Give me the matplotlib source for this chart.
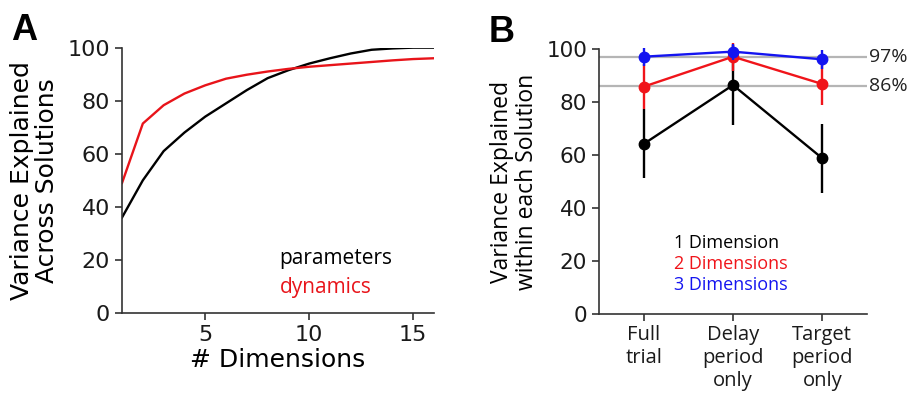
import matplotlib
matplotlib.use("Agg")
import matplotlib.pyplot as plt
import numpy as np

plt.rcParams['font.family'] = ['DejaVu Sans']
ann_font = ['Open Sans', 'DejaVu Sans']

# Panel A data
dims = [1, 2, 3, 4, 5, 6, 7, 8, 9, 10, 11, 12, 13, 14, 15, 16]
parameters = [36, 50, 61, 68, 74, 79, 84, 88.5, 91.5, 94, 96, 97.8, 99.2, 99.7, 100, 100]
dynamics = [49, 71.4, 78.3, 82.7, 85.8, 88.3, 89.8, 91, 92, 92.8, 93.4, 94, 94.6, 95.2, 95.7, 96]

# Panel B data
conditions = ["Full\ntrial", "Delay\nperiod\nonly", "Target\nperiod\nonly"]
dim1_mean = [64.2, 86.4, 58.8]
dim1_err = [13, 15, 13]
dim2_mean = [85.8, 97.1, 86.8]
dim2_err = [8.5, 5.3, 8]
dim3_mean = [97.1, 99.0, 96.1]
dim3_err = [3.4, 3.0, 3.5]
ref_levels = [97, 86]
ref_labels = ["97%", "86%"]

fig = plt.figure(figsize=(9.08, 3.97), dpi=100)

spine_color = '#333333'

def style(ax, ls):
    for s in ['top', 'right']:
        ax.spines[s].set_visible(False)
    for s in ['left', 'bottom']:
        ax.spines[s].set_color(spine_color)
        ax.spines[s].set_linewidth(1.2)
    ax.tick_params(direction='out', length=5, width=1.2, color=spine_color,
                   labelsize=ls, labelcolor='#1a1a1a')

# Panel A
axA = fig.add_axes([0.1344, 0.2116, 0.3436, 0.6684])
style(axA, 16)
axA.plot(dims, parameters, color='black', lw=1.7)
axA.plot(dims, dynamics, color='#e8141a', lw=1.7)
axA.set_xlim(1, 16)
axA.set_ylim(0, 100)
axA.set_xticks([5, 10, 15])
axA.set_yticks([0, 20, 40, 60, 80, 100])
axA.set_xlabel("# Dimensions", fontsize=18, labelpad=2)
axA.set_ylabel("Variance Explained\nAcross Solutions", fontsize=18, linespacing=1.05, labelpad=6)
axA.text(0.505, 0.185, "parameters", transform=axA.transAxes, fontsize=15,
         color='black', family=ann_font)
axA.text(0.505, 0.075, "dynamics", transform=axA.transAxes, fontsize=15,
         color='#e8141a', family=ann_font)
fig.text(0.012, 0.9, "A", fontsize=26, fontweight='bold', family=['Liberation Sans', 'DejaVu Sans'])

# Panel B
axB = fig.add_axes([0.6597, 0.2083, 0.2951, 0.6683])
style(axB, 15.5)
xs = np.arange(len(conditions))
for lvl, lab in zip(ref_levels, ref_labels):
    axB.axhline(lvl, color='#b5b5b5', lw=1.6, zorder=1)
    axB.text(2.52, lvl, lab, fontsize=14, va='center', ha='left', color='#222222',
             family=ann_font)
axB.errorbar(xs, dim1_mean, yerr=dim1_err, color='black', marker='o', ms=7.5, lw=1.7,
             elinewidth=1.7, capsize=0, zorder=3, clip_on=False)
axB.errorbar(xs, dim2_mean, yerr=dim2_err, color='#f0141a', marker='o', ms=7.5, lw=1.7,
             elinewidth=1.7, capsize=0, zorder=4, clip_on=False)
axB.errorbar(xs, dim3_mean, yerr=dim3_err, color='#1414f0', marker='o', ms=7.5, lw=1.7,
             elinewidth=1.7, capsize=0, zorder=5, clip_on=False)
axB.set_xlim(-0.5, 2.5)
axB.set_ylim(0, 100)
axB.set_xticks(xs)
axB.set_xticklabels(conditions, fontsize=14.5, linespacing=1.2, family=ann_font,
                    va='top')
axB.set_yticks([0, 20, 40, 60, 80, 100])
axB.tick_params(axis='x', pad=3)
axB.set_ylabel("Variance Explained\nwithin each Solution", fontsize=16.5, linespacing=1.1,
               labelpad=5, family=ann_font)
axB.text(0.28, 0.25, "1 Dimension", transform=axB.transAxes, fontsize=13,
         color='black', family=ann_font)
axB.text(0.28, 0.17, "2 Dimensions", transform=axB.transAxes, fontsize=13,
         color='#f0141a', family=ann_font)
axB.text(0.28, 0.09, "3 Dimensions", transform=axB.transAxes, fontsize=13,
         color='#1414f0', family=ann_font)
fig.text(0.538, 0.895, "B", fontsize=26, fontweight='bold', family=['Liberation Sans', 'DejaVu Sans'])

fig.savefig("out.png", dpi=100)
